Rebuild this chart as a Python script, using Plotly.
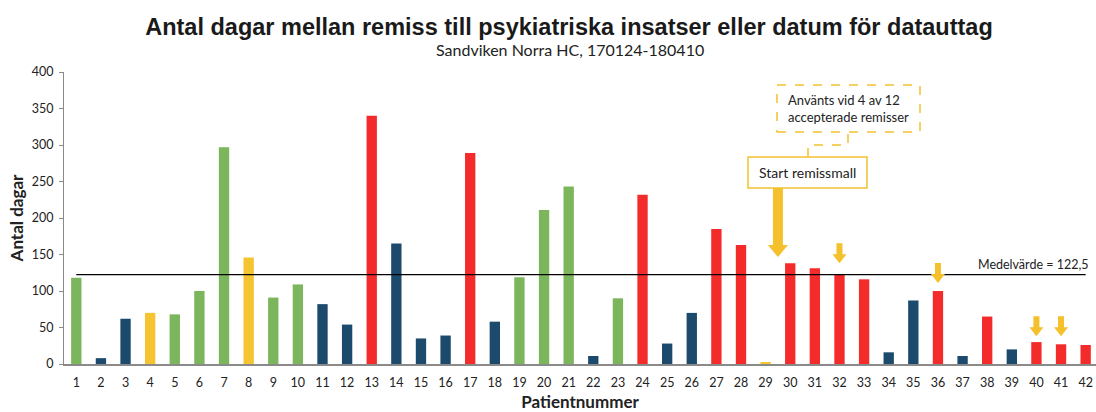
import plotly.graph_objects as go

# ---------------- data ----------------
patients = list(range(1, 43))
days = [118, 8, 62, 70, 68, 100, 297, 146, 91, 109,
        82, 54, 340, 165, 35, 39, 289, 58, 119, 211,
        243, 11, 90, 232, 28, 70, 185, 163, 2, 138,
        131, 123, 116, 16, 87, 100, 11, 65, 20, 30,
        27, 26]
groups = ["G", "B", "B", "Y", "G", "G", "G", "Y", "G", "G",
          "B", "B", "R", "B", "B", "B", "R", "B", "G", "G",
          "G", "B", "G", "R", "B", "B", "R", "R", "Y", "R",
          "R", "R", "R", "B", "B", "R", "B", "R", "B", "R",
          "R", "R"]
mean_value = 122.5
tick_vals_y = [0, 50, 100, 150, 200, 250, 300, 350, 400]
arrow_patients = [32, 36, 40, 41]
arrow_tips = [138, 111, 38, 38]
start_arrow_x = 29.5
start_arrow_tip = 146.5

palette = {"G": "#7BB55C", "B": "#1B4A6C", "Y": "#F6C431", "R": "#F42B2B"}
colors = [palette[g] for g in groups]
ARROW = "#F4C02B"

# layout geometry helpers (pixel -> data / paper)
L, R, T, B = 64, 0, 72, 48
W, H = 1096, 412
XMAX = 42.42
pw = W - L - R
ph = H - T - B
def X(px):
    return 0.5 + (px - L) * (XMAX - 0.5) / pw
def Y(py):
    return (T + ph - py) * 400 / ph
def PX(px):
    return (px - L) / pw
def PY(py):
    return (T + ph - py) / ph

fig = go.Figure()
fig.add_trace(go.Bar(
    x=patients, y=days, marker=dict(color=colors, line=dict(width=0)),
    width=0.42, showlegend=False))

shapes = []
# mean line
shapes.append(dict(type="line", xref="x", yref="y", x0=1, x1=42,
                   y0=mean_value, y1=mean_value,
                   line=dict(color="black", width=1.3), layer="above"))

# small arrows (pixel sized, anchored at data points)
small = "M -3,20 L 3,20 L 3,9 L 7,9 L 0,0 L -7,9 L -3,9 Z"
for p, t in zip(arrow_patients, arrow_tips):
    shapes.append(dict(type="path", xref="x", yref="y",
                       xsizemode="pixel", ysizemode="pixel",
                       xanchor=p, yanchor=t, path=small,
                       fillcolor=ARROW, line=dict(width=0), layer="above"))
# big arrow
big = "M -5,69 L 5,69 L 5,12 L 10,12 L 0,0 L -10,12 L -5,12 Z"
shapes.append(dict(type="path", xref="x", yref="y",
                   xsizemode="pixel", ysizemode="pixel",
                   xanchor=start_arrow_x, yanchor=start_arrow_tip, path=big,
                   fillcolor=ARROW, line=dict(width=0), layer="above"))

# boxes
shapes.append(dict(type="rect", xref="x", yref="y",
                   x0=X(748), x1=X(867), y0=Y(188), y1=Y(157),
                   fillcolor="white", line=dict(color="#F2C230", width=1.5)))
shapes.append(dict(type="rect", xref="x", yref="y",
                   x0=X(777), x1=X(920), y0=Y(132), y1=Y(85),
                   fillcolor="white", line=dict(color="#F2C230", width=1.5, dash="dash")))
# connector
shapes.append(dict(type="path", xref="x", yref="y",
                   path=f"M {X(808)},{Y(157)} L {X(808)},{Y(145)} L {X(848)},{Y(145)} L {X(848)},{Y(132)}",
                   line=dict(color="#F2C230", width=1.5, dash="dash")))

annotations = [
    dict(text="Sandviken Norra HC, 170124-180410", xref="paper", yref="paper",
         x=PX(570), y=PY(50), xanchor="center", yanchor="middle", showarrow=False,
         font=dict(family="Lato", size=16, color="#222")),
    dict(text="Start remissmall", xref="x", yref="y", x=X(757), y=Y(172),
         xanchor="left", yanchor="middle", showarrow=False,
         font=dict(family="Lato", size=14, color="#222")),
    dict(text="Använts vid 4 av 12<br>accepterade remisser", xref="x", yref="y",
         x=X(786), y=Y(108), xanchor="left", yanchor="middle", align="left", showarrow=False,
         font=dict(family="Lato", size=13, color="#222")),
    dict(text="Medelvärde = 122,5", xref="x", yref="y", x=X(1090), y=mean_value,
         xanchor="right", yanchor="bottom", yshift=1, showarrow=False,
         font=dict(family="Lato", size=12.5, color="#222")),
]

fig.update_layout(
    width=W, height=H,
    margin=dict(l=L, r=R, t=T, b=B),
    plot_bgcolor="white", paper_bgcolor="white",
    title=dict(text="<b>Antal dagar mellan remiss till psykiatriska insatser eller datum för datauttag</b>",
               x=569 / W, xanchor="center", xref="container",
               y=1 - 27 / H, yanchor="middle", yref="container",
               font=dict(family="Liberation Sans", size=23.5, color="#1a1a1a")),
    shapes=shapes, annotations=annotations,
    xaxis=dict(range=[0.5, XMAX], tickmode="array", tickvals=patients,
               ticktext=[str(p) for p in patients], showgrid=False,
               showline=True, linecolor="#8a8a8a", linewidth=1.5,
               ticks="", ticklabelstandoff=6,
               tickfont=dict(family="Lato", size=12.5, color="#222"),
               title=dict(text="<b>Patientnummer</b>", standoff=10,
                          font=dict(family="Lato", size=17, color="#222"))),
    yaxis=dict(range=[0, 400], tickmode="array", tickvals=tick_vals_y,
               showgrid=False, zeroline=False, showline=True,
               linecolor="#8a8a8a", linewidth=1.2, ticks="outside",
               ticklen=4, tickcolor="#8a8a8a", ticklabelstandoff=3,
               tickfont=dict(family="Lato", size=12.5, color="#222"),
               title=dict(text="<b>Antal dagar</b>", standoff=3,
                          font=dict(family="Lato", size=17, color="#222"))),
    bargap=0.5,
)

fig.write_html("out.html")
